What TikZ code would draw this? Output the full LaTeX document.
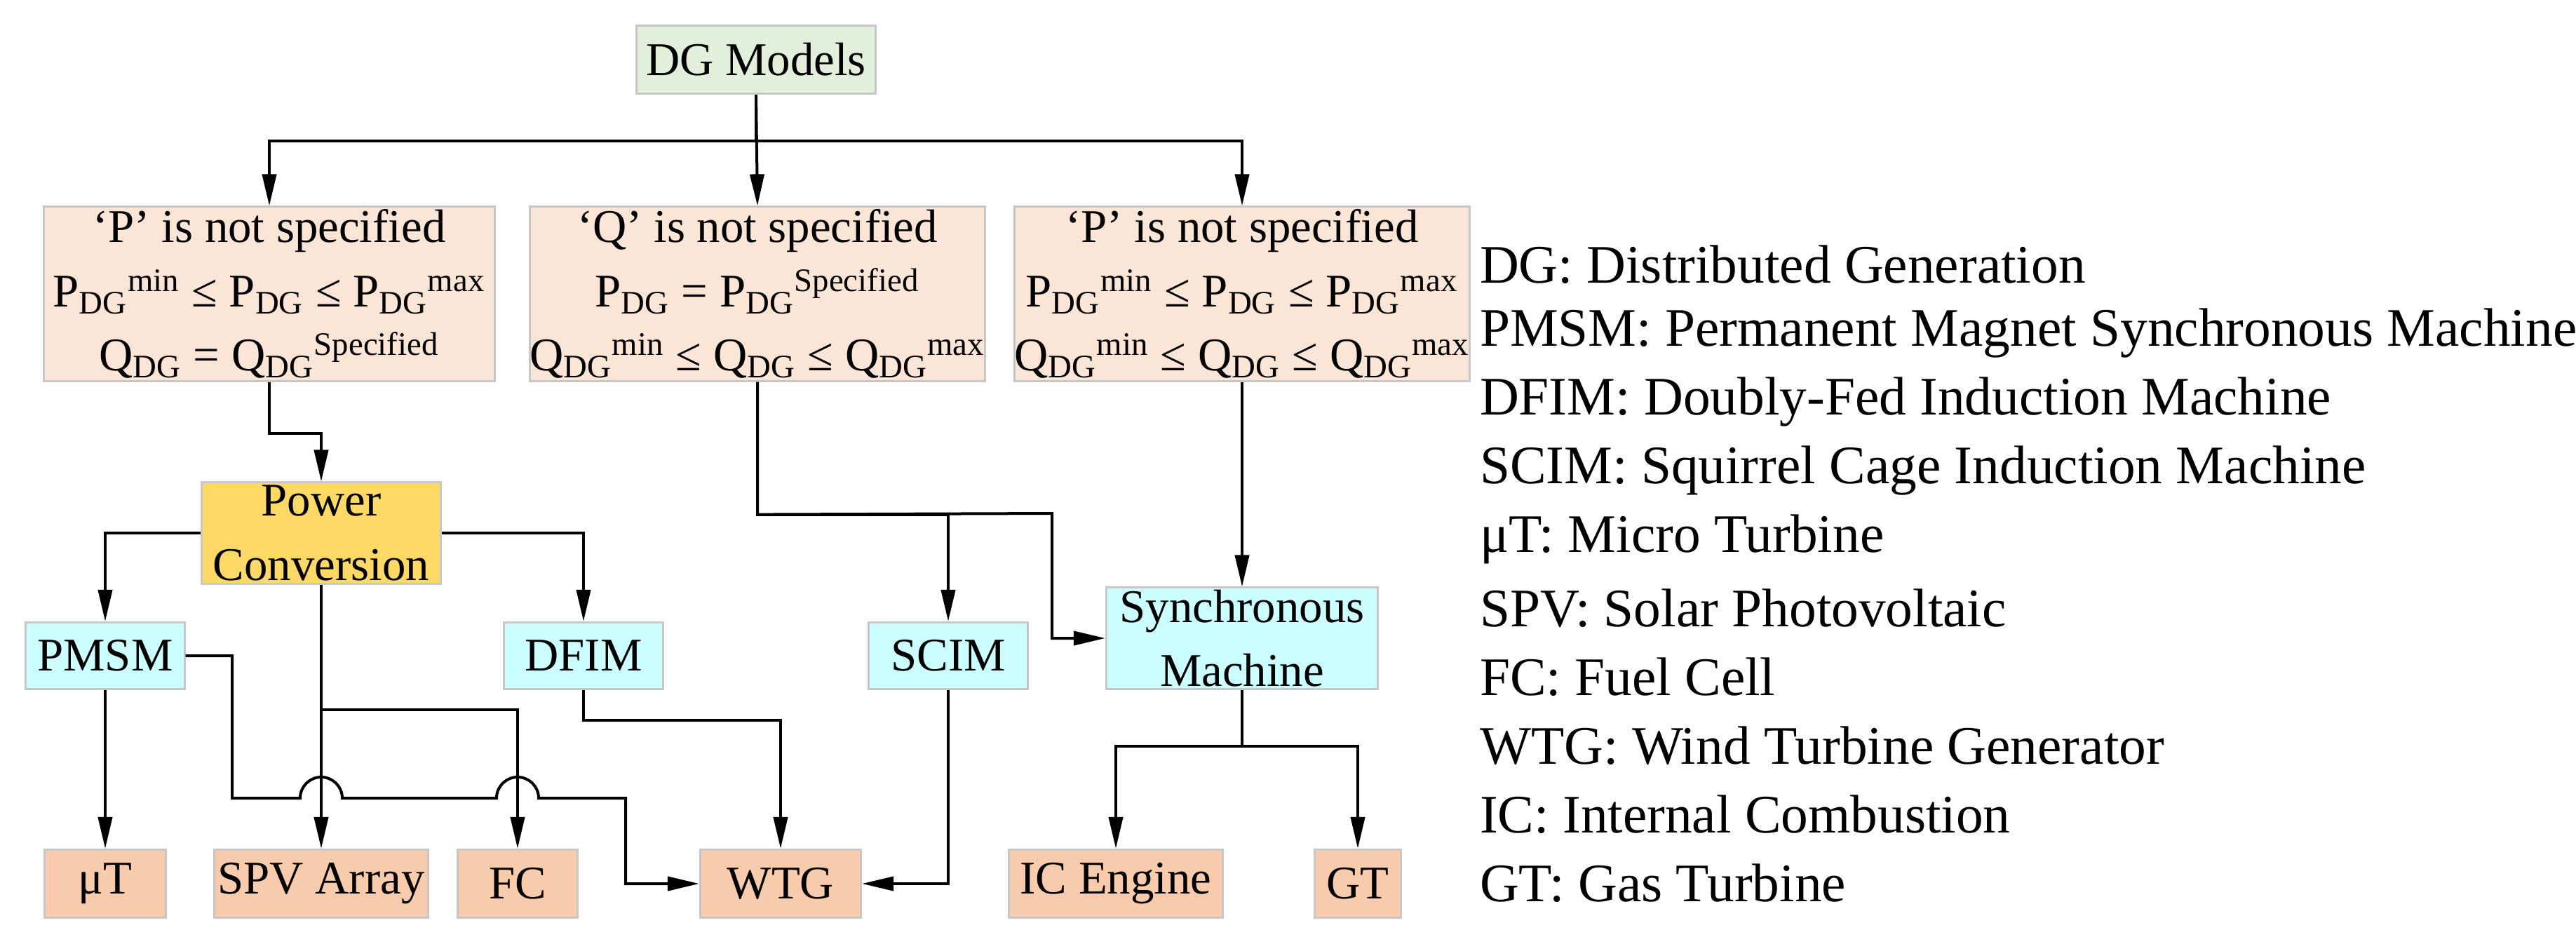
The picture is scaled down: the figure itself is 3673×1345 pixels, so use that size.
\documentclass[tikz,border=0pt]{standalone}
\usepackage{fontspec}
\setmainfont{Liberation Serif}
\usetikzlibrary{arrows.meta}
\begin{document}
\begin{tikzpicture}[x=0.01cm,y=-0.01cm,
  box/.style={draw=black!22,line width=0.03cm,align=center,inner sep=0pt,font=\fontsize{19}{26}\selectfont},
  arr/.style={-{Triangle[length=0.45cm,width=0.2cm]}},
  ln/.style={line width=0.04cm},
  leg/.style={anchor=west,inner sep=0pt,font=\fontsize{22}{26}\selectfont}]
\useasboundingbox (0,0) rectangle (3673,1345);
\tikzset{every path/.append style={line width=0.04cm}}
\node[box,fill={rgb,255:red,226;green,239;blue,218},minimum width=3.41cm,minimum height=0.97cm] (dg) at (1078,85) {DG Models};
\node[box,fill={rgb,255:red,251;green,229;blue,214},minimum width=6.42cm,minimum height=2.48cm] (b1) at (384,419)
 {‘P’ is not specified\\ P\textsubscript{DG}\textsuperscript{min} ≤ P\textsubscript{DG} ≤ P\textsubscript{DG}\textsuperscript{max}\\ Q\textsubscript{DG} = Q\textsubscript{DG}\textsuperscript{Specified}};
\node[box,fill={rgb,255:red,251;green,229;blue,214},minimum width=6.42cm,minimum height=2.48cm] (b2) at (1080,419)
 {‘Q’ is not specified\\ P\textsubscript{DG} = P\textsubscript{DG}\textsuperscript{Specified}\\ Q\textsubscript{DG}\textsuperscript{min} ≤ Q\textsubscript{DG} ≤ Q\textsubscript{DG}\textsuperscript{max}};
\node[box,fill={rgb,255:red,251;green,229;blue,214},minimum width=6.42cm,minimum height=2.48cm] (b3) at (1771,419)
 {‘P’ is not specified\\ P\textsubscript{DG}\textsuperscript{min} ≤ P\textsubscript{DG} ≤ P\textsubscript{DG}\textsuperscript{max}\\ Q\textsubscript{DG}\textsuperscript{min} ≤ Q\textsubscript{DG} ≤ Q\textsubscript{DG}\textsuperscript{max}};
\node[box,fill={rgb,255:red,255;green,217;blue,102},minimum width=3.41cm,minimum height=1.44cm] (pc) at (458,760) {Power\\Conversion};
\node[box,fill={rgb,255:red,204;green,255;blue,255},minimum width=2.26cm,minimum height=0.95cm] (pmsm) at (150,935) {PMSM};
\node[box,fill={rgb,255:red,204;green,255;blue,255},minimum width=2.26cm,minimum height=0.95cm] (dfim) at (832,935) {DFIM};
\node[box,fill={rgb,255:red,204;green,255;blue,255},minimum width=2.26cm,minimum height=0.95cm] (scim) at (1352,935) {SCIM};
\node[box,fill={rgb,255:red,204;green,255;blue,255},minimum width=3.87cm,minimum height=1.44cm] (sm) at (1771,910) {Synchronous\\Machine};
\node[box,fill={rgb,255:red,248;green,203;blue,173},minimum width=1.73cm,minimum height=0.97cm] (ut) at (150,1260) {μT};
\node[box,fill={rgb,255:red,248;green,203;blue,173},minimum width=3.04cm,minimum height=0.97cm] (spv) at (458,1260) {SPV Array};
\node[box,fill={rgb,255:red,248;green,203;blue,173},minimum width=1.71cm,minimum height=0.97cm] (fc) at (738,1260) {FC};
\node[box,fill={rgb,255:red,248;green,203;blue,173},minimum width=2.29cm,minimum height=0.97cm] (wtg) at (1113,1260) {WTG};
\node[box,fill={rgb,255:red,248;green,203;blue,173},minimum width=3.05cm,minimum height=0.97cm] (ic) at (1591,1260) {IC Engine};
\node[box,fill={rgb,255:red,248;green,203;blue,173},minimum width=1.22cm,minimum height=0.97cm] (gt) at (1936,1260) {GT};
% connectors
\draw[arr] (dg.south) -- ++(0,66) -| (b1.north);
\draw[arr] (dg.south) -- (b2.north);
\draw[arr] (dg.south) -- ++(0,66) -| (b3.north);
\draw[arr] (b1.south) -- ++(0,73) -| (pc.north);
\draw[arr] (pc.west) -| (pmsm.north);
\draw[arr] (pc.east) -| (dfim.north);
\draw[arr] (pc.south) -- (spv.north);
\draw[arr] (pc.south) ++(0,178) -| (fc.north);
\draw[arr] (b2.south) -- ++(0,189) -| (scim.north);
\draw[arr] (b2.south) -- ++(0,189) -- (1500,732) |- (sm.west);
\draw[arr] (b3.south) -- (sm.north);
\draw[arr] (pmsm.south) -- (ut.north);
\draw[arr] (pmsm.east) -- (331,935) -- (331,1138) -- (428,1138) arc(180:360:30) -- (708,1138) arc(180:360:30) -- (892,1138) |- (wtg.west);
\draw[arr] (dfim.south) -- ++(0,43) -| (wtg.north);
\draw[arr] (scim.south) |- (wtg.east);
\draw[arr] (sm.south) -- ++(0,80) -| (ic.north);
\draw[arr] (sm.south) -- ++(0,80) -| (gt.north);
% legend
\node[leg] (l1) at (2108,377) {DG: Distributed Generation};
\node[leg] (l2) at (2108,475) {PMSM: Permanent Magnet Synchronous Machine};
\node[leg] (l3) at (2108,573) {DFIM: Doubly-Fed Induction Machine};
\node[leg] (l4) at (2108,671) {SCIM: Squirrel Cage Induction Machine};
\node[leg] (l5) at (2108,769) {μT: Micro Turbine};
\node[leg] (l6) at (2108,867) {SPV: Solar Photovoltaic};
\node[leg] (l7) at (2108,965) {FC: Fuel Cell};
\node[leg] (l8) at (2108,1063) {WTG: Wind Turbine Generator};
\node[leg] (l9) at (2108,1161) {IC: Internal Combustion};
\node[leg] (l10) at (2108,1259) {GT: Gas Turbine};
\end{tikzpicture}
\end{document}
